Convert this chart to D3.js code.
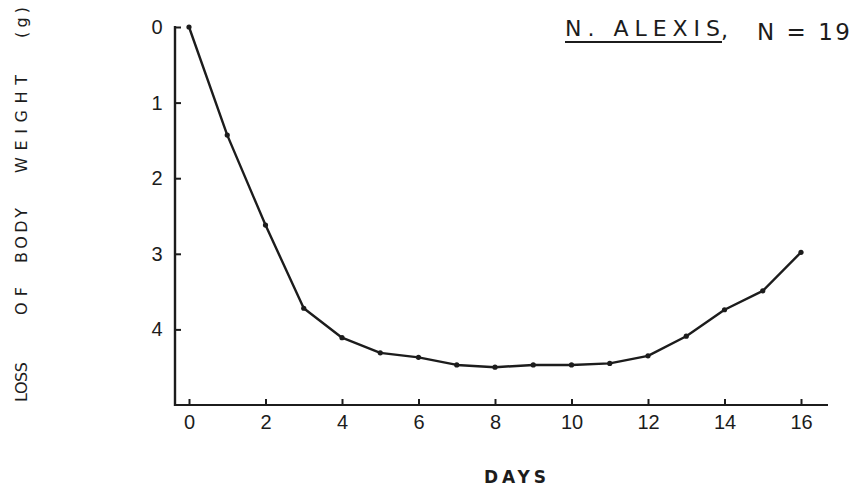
<!DOCTYPE html>
<html lang="en">
<head>
    <meta charset="UTF-8">
    <title>N. alexis - loss of body weight</title>
    <script src="https://d3js.org/d3.v7.min.js"></script>
    <style>
        body {
            margin: 0;
            background-color: #fff;
        }
        svg {
            display: block;
            font-family: "DejaVu Sans", sans-serif;
        }
        text {
            fill: #1c1c1c;
        }
    </style>
</head>
<body>
    <svg id="chart"></svg>
    <script>
        // values
        const days = [0, 1, 2, 3, 4, 5, 6, 7, 8, 9, 10, 11, 12, 13, 14, 15, 16];
        const weightLoss = [0, 1.43, 2.62, 3.72, 4.11, 4.31, 4.37, 4.47, 4.50, 4.47, 4.47, 4.45, 4.35, 4.09, 3.74, 3.49, 2.98];
        const xTicks = [0, 2, 4, 6, 8, 10, 12, 14, 16];
        const yTicks = [0, 1, 2, 3, 4];
        const yLabelWords = ["LOSS", "OF", "BODY", "WEIGHT", "(g)"];

        const width = 857, height = 494;
        const ink = "#1c1c1c";

        const svg = d3.select("#chart")
            .attr("width", width)
            .attr("height", height);

        const x = d3.scaleLinear().domain([0, 16]).range([189, 801]);
        const y = d3.scaleLinear().domain([0, 5]).range([27, 405]);

        const axisX = 175, axisY = 405;

        // axis lines drawn by hand so they overhang like the original
        svg.append("line")
            .attr("x1", axisX).attr("x2", axisX)
            .attr("y1", y(0) - 1).attr("y2", axisY + 1)
            .attr("stroke", ink).attr("stroke-width", 2.4);
        svg.append("line")
            .attr("x1", axisX - 1).attr("x2", 828)
            .attr("y1", axisY).attr("y2", axisY)
            .attr("stroke", ink).attr("stroke-width", 2);

        const yAxis = svg.append("g")
            .attr("transform", `translate(${axisX},0)`)
            .call(d3.axisLeft(y).tickValues(yTicks).tickFormat(d3.format("d"))
                .tickSizeInner(-6).tickSizeOuter(0).tickPadding(18));
        yAxis.select(".domain").remove();
        yAxis.selectAll("line").attr("stroke", ink).attr("stroke-width", 2);
        yAxis.selectAll("text")
            .attr("text-anchor", "middle")
            .style("font-size", "20px")
            .style("fill", ink);

        const xAxis = svg.append("g")
            .attr("transform", `translate(0,${axisY})`)
            .call(d3.axisBottom(x).tickValues(xTicks).tickFormat(d3.format("d"))
                .tickSizeInner(-6).tickSizeOuter(0).tickPadding(10));
        xAxis.select(".domain").remove();
        xAxis.selectAll("line").attr("stroke", ink).attr("stroke-width", 2);
        xAxis.selectAll("text")
            .style("font-size", "20px")
            .style("fill", ink);

        // data line
        const data = days.map((d, i) => ({ day: d, loss: weightLoss[i] }));
        const line = d3.line()
            .x(d => x(d.day))
            .y(d => y(d.loss));

        svg.append("path")
            .datum(data)
            .attr("fill", "none")
            .attr("stroke", ink)
            .attr("stroke-width", 2.4)
            .attr("stroke-linejoin", "round")
            .attr("d", line);

        svg.selectAll(".pt")
            .data(data)
            .enter().append("circle")
            .attr("class", "pt")
            .attr("cx", d => x(d.day))
            .attr("cy", d => y(d.loss))
            .attr("r", 2.6)
            .attr("fill", ink);

        // axis titles
        svg.append("text")
            .attr("x", 515).attr("y", 483)
            .attr("text-anchor", "middle")
            .attr("textLength", 62)
            .attr("lengthAdjust", "spacing")
            .style("font-size", "17px")
            .style("font-weight", "bold")
            .text("DAYS");

        const wordSpans = [[362, 402], [287, 315], [208, 263], [75, 173], [7, 38]];
        svg.selectAll(".ylab")
            .data(yLabelWords)
            .enter().append("text")
            .attr("class", "ylab")
            .attr("transform", (d, i) => `translate(27,${(wordSpans[i][0] + wordSpans[i][1]) / 2}) rotate(-90)`)
            .attr("text-anchor", "middle")
            .attr("textLength", (d, i) => wordSpans[i][1] - wordSpans[i][0])
            .attr("lengthAdjust", "spacing")
            .style("font-size", "16px")
            .text(d => d);

        // title
        svg.append("text")
            .attr("x", 565).attr("y", 36)
            .attr("textLength", 155)
            .attr("lengthAdjust", "spacing")
            .style("font-size", "22px")
            .text("N. ALEXIS");
        svg.append("text")
            .attr("x", 721).attr("y", 38)
            .style("font-size", "22px")
            .text(",");
        svg.append("line")
            .attr("x1", 565).attr("x2", 722)
            .attr("y1", 42).attr("y2", 42)
            .attr("stroke", ink).attr("stroke-width", 2);
        svg.append("text")
            .attr("x", 757).attr("y", 40)
            .attr("textLength", 93)
            .attr("lengthAdjust", "spacing")
            .style("font-size", "23px")
            .text("N = 19");
    </script>
</body>
</html>
